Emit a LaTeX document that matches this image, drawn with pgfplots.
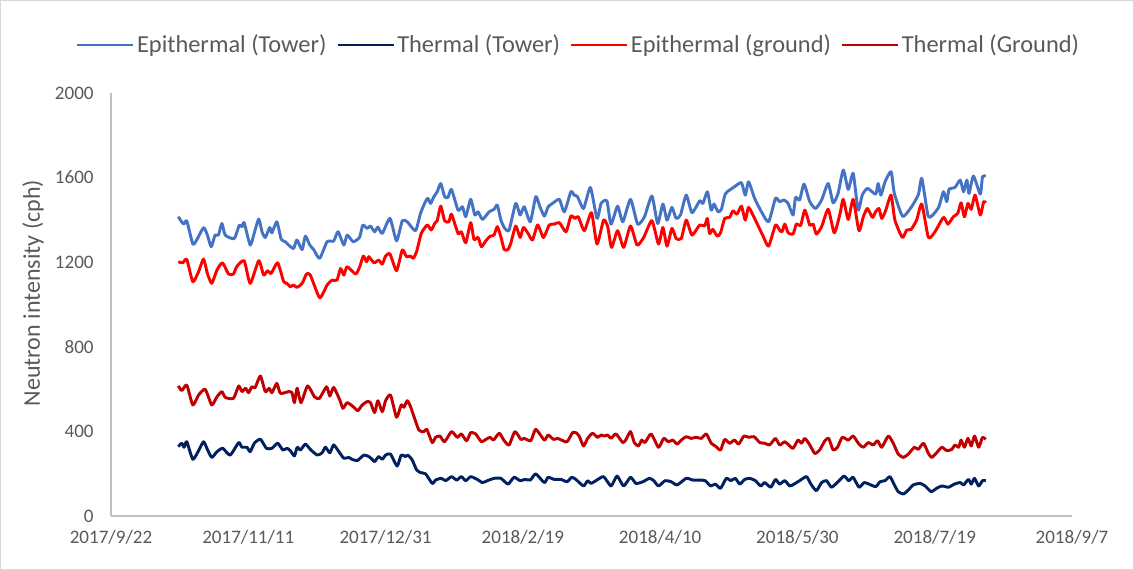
\documentclass[border=0pt]{standalone}
\usepackage{pgfplots}
\pgfplotsset{compat=1.18}
\usepackage{fontspec}
\setmainfont{Carlito}
\definecolor{epiT}{HTML}{4472C4}
\definecolor{thT}{HTML}{002060}
\definecolor{epiG}{HTML}{FF0000}
\definecolor{thG}{HTML}{C00000}
\definecolor{txt}{HTML}{595959}
\definecolor{axl}{HTML}{BFBFBF}
\begin{document}
\begin{tikzpicture}
\begin{axis}[
  at={(0,0)}, anchor=south west,
  scale only axis, width=720.75pt, height=317.25pt,
  xmin=0, xmax=350, ymin=0, ymax=2000,
  axis x line=bottom, axis y line=left,
  axis line style={draw=axl, line width=1pt, -},
  xtick={0,50,...,350},
  xticklabels={2017/9/22,2017/11/11,2017/12/31,2018/2/19,2018/4/10,2018/5/30,2018/7/19,2018/9/7},
  ytick={0,400,...,2000},
  major tick length=0pt,
  /pgf/number format/assume math mode=true,
  /pgf/number format/1000 sep={},
  tick label style={font=\fontsize{14.3}{17}\selectfont, text=txt},
  yticklabel style={xshift=-9.5pt},
  xticklabel style={yshift=-7pt},
  ylabel={Neutron intensity (cph)},
  ylabel style={at={(axis description cs:-0.0812,0.527)}, anchor=center, font=\fontsize{18}{22}\selectfont, text=txt},
  legend columns=4,
  legend style={at={(0.487,1.1135)}, anchor=center, draw=none, fill=none, font=\fontsize{18.3}{22}\selectfont, text=txt, /tikz/every even column/.append style={column sep=5.5pt}},
  legend image code/.code={\draw[#1, line width=1.6pt] (0pt,0pt) -- (42pt,0pt);},
  every axis plot/.append style={line width=2.2pt, line join=round, smooth, tension=0.35, mark=none},
  clip=false,
]
\addplot[color=epiT] table {
x y
24.5 1415
26.4 1380
27.6 1395
29.8 1286
31.2 1305
33.7 1363
35.1 1328
36.5 1273
37.9 1328
39.1 1328
40.4 1383
41.6 1328
44.9 1312
46.7 1375
47.7 1368
48.5 1387
50.7 1281
52.2 1339
53.8 1404
55.0 1344
56.2 1317
57.8 1364
58.6 1339
60.4 1391
62.0 1308
63.5 1297
64.7 1281
66.5 1265
67.7 1305
69.6 1260
70.8 1323
72.4 1281
73.8 1260
76.0 1218
78.7 1297
81.1 1300
82.7 1344
84.8 1281
86.0 1328
88.2 1297
90.5 1317
91.7 1375
93.3 1360
94.5 1371
96.0 1344
97.2 1366
98.8 1336
101.6 1407
104.0 1301
106.1 1396
107.9 1391
110.9 1349
112.8 1434
115.2 1502
116.4 1478
117.6 1510
118.8 1533
120.1 1572
121.5 1510
122.7 1506
124.0 1544
126.4 1446
128.0 1462
129.2 1415
131.0 1497
132.5 1423
133.7 1438
135.3 1402
137.7 1438
139.5 1450
140.7 1470
142.0 1399
143.4 1360
145.0 1352
147.4 1478
149.0 1423
150.5 1462
152.7 1391
154.7 1510
156.0 1470
157.8 1418
159.2 1462
160.8 1478
163.3 1497
165.1 1438
167.5 1533
168.7 1517
169.9 1510
172.1 1454
174.6 1553
177.0 1407
178.5 1478
180.6 1490
182.1 1380
184.5 1465
186.4 1391
189.2 1497
191.8 1380
194.3 1415
197.0 1513
199.1 1383
201.0 1475
202.5 1399
204.3 1459
205.8 1407
207.4 1423
209.5 1517
211.6 1434
214.4 1490
215.6 1478
217.2 1533
218.6 1446
219.6 1475
221.1 1438
222.3 1450
223.7 1522
225.3 1541
227.1 1557
229.6 1576
231.0 1517
232.2 1580
234.4 1502
236.9 1438
239.5 1391
242.0 1502
243.5 1486
245.1 1494
246.6 1478
248.4 1423
249.3 1506
250.8 1494
252.4 1569
254.5 1486
256.6 1454
258.8 1494
261.2 1572
263.0 1481
264.8 1525
266.7 1636
268.5 1544
270.3 1620
272.1 1446
273.6 1517
275.5 1549
278.5 1522
279.4 1572
280.4 1517
281.9 1580
284.1 1628
285.3 1525
288.2 1418
290.2 1438
292.2 1475
294.1 1522
295.3 1596
297.5 1423
298.9 1418
301.4 1459
303.2 1533
304.4 1486
305.2 1544
307.4 1554
309.3 1588
310.5 1533
311.7 1588
312.5 1525
314.1 1607
316.6 1522
317.4 1604
318.6 1607
};
\addlegendentry{Epithermal (Tower)}
\addplot[color=thT] table {
x y
24.5 328
25.8 344
26.6 325
27.6 351
29.8 268
31.9 309
33.7 351
35.1 315
36.7 277
38.6 304
40.7 320
43.4 288
46.5 347
47.7 325
49.5 325
50.7 304
52.2 344
54.4 363
56.6 320
58.6 320
60.7 344
62.6 312
64.1 320
65.3 309
66.8 284
67.8 325
69.0 312
70.8 340
72.6 315
75.1 288
76.9 299
78.1 325
79.7 299
81.1 336
83.0 304
84.8 273
86.6 277
87.8 268
89.7 262
92.1 288
93.9 281
95.1 268
96.0 257
97.5 281
98.8 268
100.0 288
101.8 293
104.2 236
105.7 288
107.3 281
108.1 288
109.7 265
111.3 218
112.8 205
114.6 199
117.0 154
118.2 170
120.3 178
121.9 167
124.0 186
125.9 170
127.6 186
129.2 167
131.0 186
133.4 173
135.3 158
137.1 167
139.5 178
142.0 178
144.6 151
146.8 183
149.0 167
150.7 173
152.7 170
154.7 199
157.8 158
159.2 183
161.4 173
163.9 173
166.1 162
167.8 183
169.3 173
172.1 142
173.6 167
174.8 154
176.6 167
179.4 186
182.1 142
184.3 189
186.7 142
189.2 183
191.2 154
193.7 162
196.1 178
197.7 167
199.4 142
201.8 167
204.0 162
206.2 147
209.5 178
211.9 170
214.4 170
216.4 167
218.4 142
220.1 151
222.0 131
224.1 178
225.7 167
227.4 178
229.0 151
230.8 173
232.6 178
234.7 167
236.6 142
238.1 158
240.3 136
242.0 173
243.5 151
245.4 167
247.2 142
248.8 151
250.8 167
253.3 186
254.9 151
256.9 120
258.8 158
260.6 167
262.4 136
264.8 162
267.0 189
268.7 167
270.3 183
272.4 136
274.3 158
276.0 151
278.5 139
280.1 162
281.9 167
283.7 186
285.3 147
286.7 115
288.6 104
290.4 123
292.2 147
294.7 154
296.5 142
298.7 115
300.7 131
302.6 142
305.0 136
307.2 151
309.3 158
310.5 147
312.3 173
313.3 151
314.5 178
316.0 142
317.4 167
318.6 167
};
\addlegendentry{Thermal (Tower)}
\addplot[color=epiG] table {
x y
24.5 1202
26.1 1197
27.6 1213
29.8 1108
31.9 1155
33.7 1215
35.1 1147
36.7 1100
38.6 1163
40.6 1197
42.8 1144
44.6 1144
45.8 1179
48.5 1207
50.7 1100
53.8 1207
55.6 1139
57.0 1160
58.3 1147
60.7 1197
62.9 1108
64.1 1100
65.3 1084
66.5 1092
67.7 1081
69.6 1100
71.2 1144
72.6 1139
76.0 1032
78.7 1092
80.5 1115
82.3 1115
83.6 1170
84.8 1139
86.0 1179
89.1 1144
90.6 1179
91.9 1229
93.1 1202
93.9 1226
95.8 1197
97.5 1210
98.8 1191
100.0 1229
101.6 1239
104.0 1160
106.1 1258
107.6 1226
109.1 1229
110.1 1218
111.3 1250
113.0 1336
115.2 1376
116.6 1352
117.9 1383
118.8 1396
120.1 1465
121.5 1396
123.1 1391
124.0 1427
126.4 1336
127.6 1344
129.2 1292
131.0 1387
132.2 1308
133.7 1317
134.9 1273
136.5 1301
138.1 1323
139.5 1328
140.7 1368
142.0 1320
143.2 1260
144.6 1260
145.6 1289
147.4 1371
149.0 1317
150.2 1364
151.9 1336
153.5 1305
155.4 1376
157.5 1317
159.6 1376
161.4 1380
163.3 1387
165.7 1344
167.5 1418
169.0 1407
170.2 1415
172.4 1349
175.0 1434
177.0 1286
179.4 1399
180.9 1368
182.3 1270
184.5 1349
186.7 1270
189.2 1371
191.6 1281
194.0 1317
197.0 1396
199.4 1286
201.0 1364
202.5 1276
204.3 1360
205.8 1312
207.7 1312
209.5 1399
211.6 1328
214.4 1376
216.2 1371
217.2 1407
218.0 1336
219.2 1355
220.8 1323
222.0 1339
223.5 1407
225.3 1412
226.5 1443
228.0 1427
229.6 1465
231.0 1399
232.2 1459
234.4 1407
237.5 1323
239.5 1276
242.0 1375
243.5 1352
244.4 1344
245.4 1380
246.6 1339
248.4 1333
249.6 1380
251.2 1375
252.7 1446
254.5 1375
255.7 1380
256.9 1333
258.8 1368
261.2 1450
263.4 1339
265.4 1423
266.7 1497
268.5 1402
270.3 1497
272.4 1349
274.0 1415
275.5 1454
277.3 1412
278.5 1439
279.7 1454
280.7 1407
282.1 1443
284.1 1517
285.5 1399
288.2 1317
289.8 1352
291.4 1355
293.4 1399
295.3 1475
297.7 1317
300.1 1344
303.2 1412
304.8 1380
306.8 1415
308.4 1431
309.6 1481
310.8 1415
312.1 1478
313.3 1450
314.7 1517
316.6 1423
317.8 1486
318.6 1481
};
\addlegendentry{Epithermal (ground)}
\addplot[color=thG] table {
x y
24.5 615
25.8 593
27.6 619
29.8 525
31.9 572
34.3 599
36.7 525
38.6 564
40.4 588
41.6 561
44.6 556
46.5 615
47.7 588
49.0 604
50.1 583
51.3 611
52.5 607
54.4 662
56.2 588
57.6 604
58.6 583
60.4 627
61.7 580
64.7 588
65.9 583
66.8 536
67.8 604
69.2 536
71.6 615
74.1 564
75.9 556
78.5 611
79.7 567
81.1 608
83.3 549
84.5 509
86.0 536
88.2 517
89.9 498
91.5 525
93.3 541
94.5 536
96.0 489
97.2 545
98.8 493
100.0 545
101.8 572
104.0 467
105.7 525
106.7 514
107.9 545
109.1 517
112.1 407
114.0 399
115.0 410
117.0 347
118.2 372
119.8 378
121.5 351
124.0 399
126.1 372
127.6 388
129.5 356
131.0 394
132.8 388
134.9 351
136.5 362
138.1 372
139.3 359
141.4 391
143.2 356
145.0 336
147.1 399
149.3 362
150.5 367
152.9 356
154.7 410
157.8 359
159.2 383
161.2 362
162.6 367
164.1 359
166.1 351
168.1 394
169.3 394
170.5 378
172.1 331
173.6 367
175.4 391
177.2 372
178.5 383
179.7 378
180.9 383
182.1 367
183.9 388
186.4 347
187.6 362
189.2 399
190.6 347
192.1 331
193.3 359
194.5 347
196.7 388
199.4 325
201.3 367
203.0 351
204.6 359
206.2 340
207.7 359
209.5 375
211.3 367
213.1 372
215.0 367
216.8 388
218.6 344
220.1 331
222.0 312
223.5 362
225.3 344
227.1 359
228.6 340
230.5 378
232.2 372
234.2 375
236.3 347
238.1 344
239.9 336
242.0 367
243.5 336
245.4 351
246.8 336
248.4 320
250.2 359
251.5 344
252.7 367
254.5 336
256.3 296
258.1 312
260.0 356
261.4 367
263.0 312
264.6 325
266.3 372
268.5 359
270.3 378
272.4 340
274.0 325
275.8 347
277.6 336
279.2 356
280.7 325
283.1 378
284.9 344
286.7 293
288.6 277
290.4 293
292.6 325
294.0 315
295.9 344
297.7 296
298.9 277
300.7 299
302.6 325
304.4 309
306.2 315
307.4 336
308.7 325
309.6 359
310.8 325
312.1 367
313.3 331
314.5 378
316.0 325
317.4 372
318.6 362
};
\addlegendentry{Thermal (Ground)}
\end{axis}
\draw[axl!60, line width=0.75pt] (-82.875pt,-40.125pt) rectangle (766.875pt,386.625pt);
\pgfresetboundingbox
\path[use as bounding box] (-83.25pt,-40.5pt) rectangle (767.25pt,387pt);
\end{tikzpicture}
\end{document}
